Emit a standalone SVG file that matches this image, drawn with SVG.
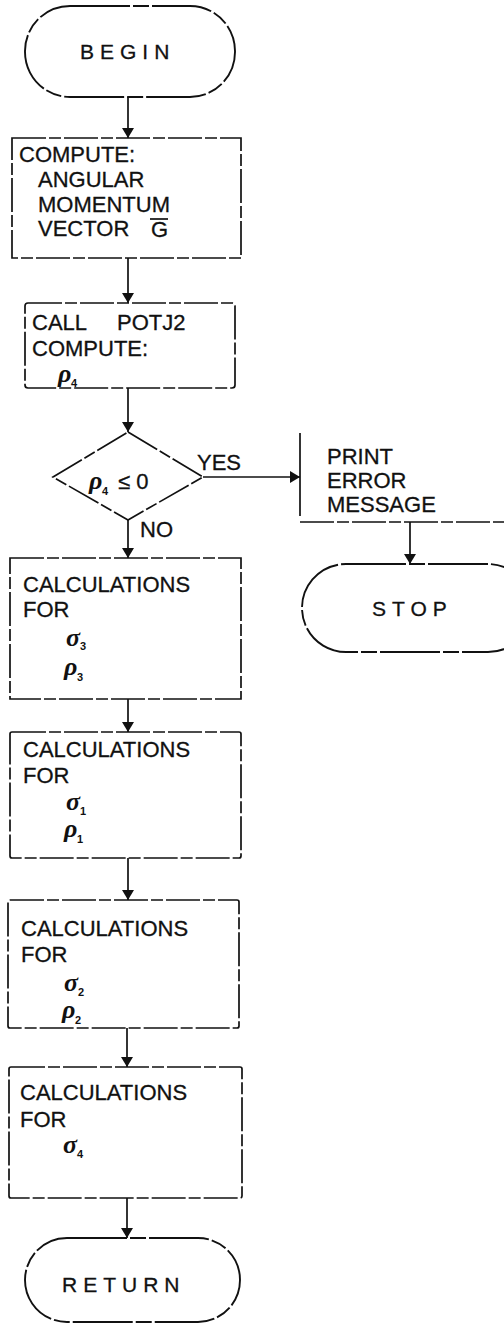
<svg xmlns="http://www.w3.org/2000/svg" width="504" height="1325" viewBox="0 0 504 1325">
<style>
  .bg { fill: #ffffff; }
  .box { fill: none; stroke: #111; stroke-width: 1.7; stroke-dasharray: 34 3 12 3; }
  .term { fill: none; stroke: #111; stroke-width: 1.9; stroke-dasharray: 60 3 16 3; }
  .edge { fill: none; stroke: #111; stroke-width: 1.7; }
  .t { font-family: "Liberation Sans", Arial, sans-serif; font-size: 22px; fill: #111; stroke: #111; stroke-width: 0.3; }
  .ts { font-family: "Liberation Sans", Arial, sans-serif; font-size: 21px; fill: #111; stroke: #111; stroke-width: 0.3; letter-spacing: 6px; }
  .g { font-family: "Liberation Serif", "Times New Roman", serif; font-size: 26px; font-style: italic; font-weight: bold; fill: #111; }
  .sub { font-family: "Liberation Sans", Arial, sans-serif; font-size: 11px; font-weight: bold; fill: #111; }
</style>
<defs>
  <marker id="arr" viewBox="0 0 10 12" refX="10" refY="6" markerWidth="10" markerHeight="12" markerUnits="userSpaceOnUse" orient="auto">
    <path d="M0,0 L10,6 L0,12 Z" fill="#111"/>
  </marker>
</defs>
<rect class="bg" x="0" y="0" width="504" height="1325"/>

<g id="connectors">
  <line class="edge" x1="128" y1="97" x2="128" y2="138" marker-end="url(#arr)"/>
  <line class="edge" x1="128" y1="258" x2="128" y2="303" marker-end="url(#arr)"/>
  <line class="edge" x1="128" y1="388" x2="128" y2="432" marker-end="url(#arr)"/>
  <line class="edge" x1="203" y1="477" x2="300" y2="477" marker-end="url(#arr)"/>
  <line class="edge" x1="128" y1="520" x2="128" y2="558" marker-end="url(#arr)"/>
  <line class="edge" x1="128" y1="699" x2="128" y2="732" marker-end="url(#arr)"/>
  <line class="edge" x1="128" y1="858" x2="128" y2="900" marker-end="url(#arr)"/>
  <line class="edge" x1="127" y1="1028" x2="127" y2="1067" marker-end="url(#arr)"/>
  <line class="edge" x1="127" y1="1198" x2="127" y2="1238" marker-end="url(#arr)"/>
  <line class="edge" x1="410" y1="522" x2="410" y2="564" marker-end="url(#arr)"/>
  <text class="t" x="197" y="470">YES</text>
  <text class="t" x="140" y="537">NO</text>
</g>

<g id="begin">
  <rect class="term" x="25" y="6" width="210" height="91" rx="45" ry="45"/>
  <text class="ts" x="80" y="59">BEGIN</text>
</g>

<g id="compute">
  <rect class="box" x="12" y="138" width="229" height="120"/>
  <text class="t" x="19" y="162">COMPUTE:</text>
  <text class="t" x="38" y="187">ANGULAR</text>
  <text class="t" x="38" y="212">MOMENTUM</text>
  <text class="t" x="38" y="236">VECTOR</text>
  <text class="t" x="151" y="237">G</text>
  <line class="edge" x1="150" y1="219" x2="168" y2="219"/>
</g>

<g id="callpotj2">
  <rect class="box" x="25" y="303" width="210" height="85" rx="3"/>
  <text class="t" x="32" y="330">CALL</text>
  <text class="t" x="117" y="330">POTJ2</text>
  <text class="t" x="32" y="356">COMPUTE:</text>
  <text class="g" x="58" y="382">ρ</text>
  <text class="sub" x="71" y="387">4</text>
</g>

<g id="decision">
  <polygon class="box" points="128,432 203,477 128,520 53,477"/>
  <text class="g" x="89" y="489">ρ</text>
  <text class="sub" x="102" y="495">4</text>
  <text class="t" x="118" y="489">≤ 0</text>
</g>

<g id="error">
  <line class="edge" x1="300" y1="433" x2="300" y2="516"/>
  <line class="box" x1="300" y1="522" x2="504" y2="522"/>
  <text class="t" x="327" y="464">PRINT</text>
  <text class="t" x="327" y="488">ERROR</text>
  <text class="t" x="327" y="512">MESSAGE</text>
</g>

<g id="stop">
  <rect class="term" x="302" y="564" width="230" height="88" rx="44" ry="44"/>
  <text class="ts" x="372" y="616">STOP</text>
</g>

<g id="calc3">
  <rect class="box" x="10" y="558" width="231" height="141"/>
  <text class="t" x="23" y="592">CALCULATIONS</text>
  <text class="t" x="23" y="617">FOR</text>
  <text class="g" x="66" y="646">σ</text>
  <text class="sub" x="80" y="650">3</text>
  <text class="g" x="64" y="675">ρ</text>
  <text class="sub" x="77" y="681">3</text>
</g>

<g id="calc1">
  <rect class="box" x="10" y="732" width="231" height="126" rx="2"/>
  <text class="t" x="23" y="757">CALCULATIONS</text>
  <text class="t" x="23" y="783">FOR</text>
  <text class="g" x="66" y="810">σ</text>
  <text class="sub" x="80" y="815">1</text>
  <text class="g" x="64" y="837">ρ</text>
  <text class="sub" x="77" y="843">1</text>
</g>

<g id="calc2">
  <rect class="box" x="8" y="900" width="231" height="128" rx="2"/>
  <text class="t" x="21" y="936">CALCULATIONS</text>
  <text class="t" x="21" y="962">FOR</text>
  <text class="g" x="64" y="991">σ</text>
  <text class="sub" x="78" y="996">2</text>
  <text class="g" x="62" y="1018">ρ</text>
  <text class="sub" x="75" y="1024">2</text>
</g>

<g id="calc4">
  <rect class="box" x="9" y="1067" width="233" height="131" rx="2"/>
  <text class="t" x="20" y="1100">CALCULATIONS</text>
  <text class="t" x="20" y="1127">FOR</text>
  <text class="g" x="63" y="1153">σ</text>
  <text class="sub" x="77" y="1158">4</text>
</g>

<g id="return">
  <rect class="term" x="25" y="1238" width="215" height="84" rx="42" ry="42"/>
  <text class="ts" x="62" y="1292">RETURN</text>
</g>
</svg>
